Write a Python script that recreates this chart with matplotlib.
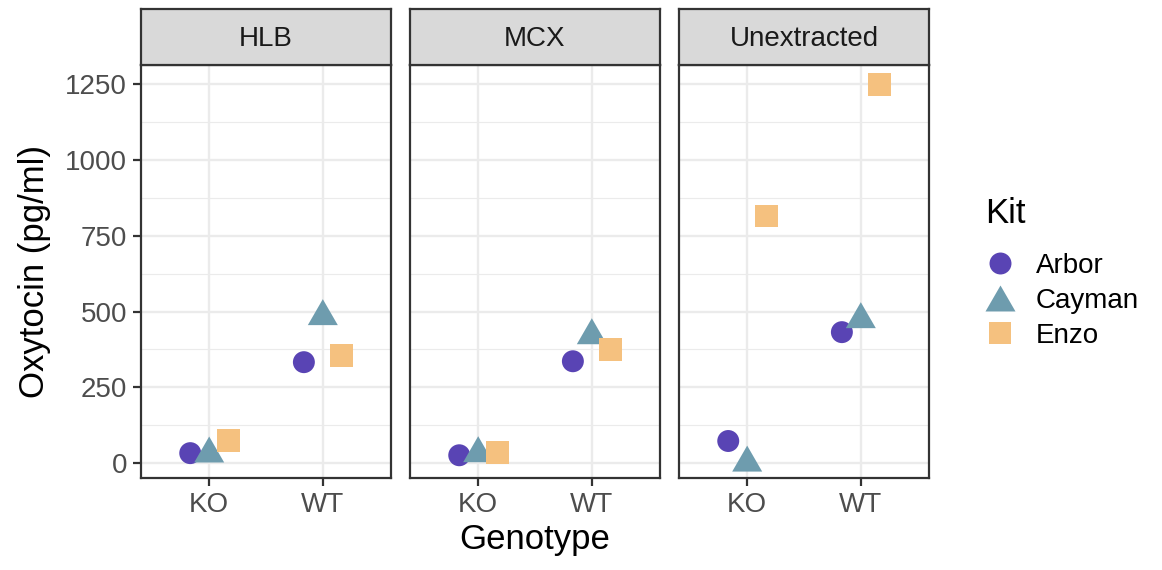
import matplotlib
matplotlib.use("Agg")
import matplotlib.pyplot as plt
import numpy as np

plt.rcParams['font.family'] = ['Liberation Sans', 'DejaVu Sans']

panels = ["HLB", "MCX", "Unextracted"]
genotypes = ["KO", "WT"]
kits = ["Arbor", "Cayman", "Enzo"]
# values per panel: [KO, WT]
arbor = {"HLB": [33, 333], "MCX": [26, 336], "Unextracted": [73, 432]}
cayman = {"HLB": [45, 498], "MCX": [46, 435], "Unextracted": [15, 488]}
enzo = {"HLB": [76, 356], "MCX": [36, 376], "Unextracted": [815, 1250]}
series = [arbor, cayman, enzo]
colors = ["#5944B4", "#6E9CAE", "#F5C17F"]
tri = [(-1, -0.866), (1, -0.866), (0, 0.866)]
markers = ["o", tri, "s"]
msizes = [15.8, 21.6, 16.5]  # points
offsets = [-1/6, 0, 1/6]
yticks = [0, 250, 500, 750, 1000, 1250]

W, H = 1162, 570
fig = plt.figure(figsize=(W/100, H/100), dpi=100)

lefts = [141, 410, 679]
pw = 250
ptop, pbot = 65, 478
strip_top = 9
ymin, ymax = -49, 1313
small = 20
big = 25

for i, p in enumerate(panels):
    ax = fig.add_axes([lefts[i]/W, 1 - pbot/H, pw/W, (pbot-ptop)/H])
    ax.set_xlim(0.4, 2.6)
    ax.set_ylim(ymin, ymax)
    for y in yticks:
        ax.axhline(y, color="#EBEBEB", lw=1.7, zorder=0)
    for y in [125, 375, 625, 875, 1125]:
        ax.axhline(y, color="#EBEBEB", lw=0.85, zorder=0)
    for x in [1, 2]:
        ax.axvline(x, color="#EBEBEB", lw=1.7, zorder=0)
    for k, s in enumerate(series):
        xs = np.arange(1, 3) + offsets[k]
        ax.scatter(xs, s[p], s=msizes[k]**2, c=colors[k], marker=markers[k],
                   edgecolors="none", zorder=3)
    ax.set_xticks([1, 2])
    ax.set_xticklabels(genotypes, fontsize=small, color="#4D4D4D")
    ax.set_yticks(yticks)
    ax.tick_params(axis='both', width=1.6, length=6, color="#333333", pad=4)
    if i == 0:
        ax.set_yticklabels([str(v) for v in yticks], fontsize=small, color="#4D4D4D")
        ax.set_ylabel("Oxytocin (pg/ml)", fontsize=big, labelpad=10)
    else:
        ax.set_yticklabels([])
        ax.tick_params(axis='y', length=0)
    for sp in ax.spines.values():
        sp.set_color("#333333")
        sp.set_linewidth(1.6)
    if i == 1:
        ax.set_xlabel("Genotype", fontsize=big, labelpad=4)
    # strip
    sax = fig.add_axes([lefts[i]/W, 1 - ptop/H, pw/W, (ptop-strip_top)/H])
    sax.set_facecolor("#D9D9D9")
    sax.set_xticks([]); sax.set_yticks([])
    for sp in sax.spines.values():
        sp.set_color("#333333")
        sp.set_linewidth(1.6)
    sax.text(0.5, 0.47, p, ha="center", va="center", fontsize=small, color="#1A1A1A",
             transform=sax.transAxes)

# legend
fig.text(985/W, 1 - 223/H, "Kit", fontsize=big, ha="left", va="baseline")
handles = [plt.Line2D([], [], marker=markers[k], color=colors[k], linestyle="none",
                      markersize=msizes[k], markeredgewidth=0) for k in range(3)]
fig.legend(handles, kits, loc="upper left",
           bbox_to_anchor=(983/W, 1 - 253/H), frameon=False, fontsize=small,
           handletextpad=0.7, labelspacing=0.32, borderpad=0,
           handlelength=1.2, borderaxespad=0)

fig.savefig("out.png", dpi=100)
